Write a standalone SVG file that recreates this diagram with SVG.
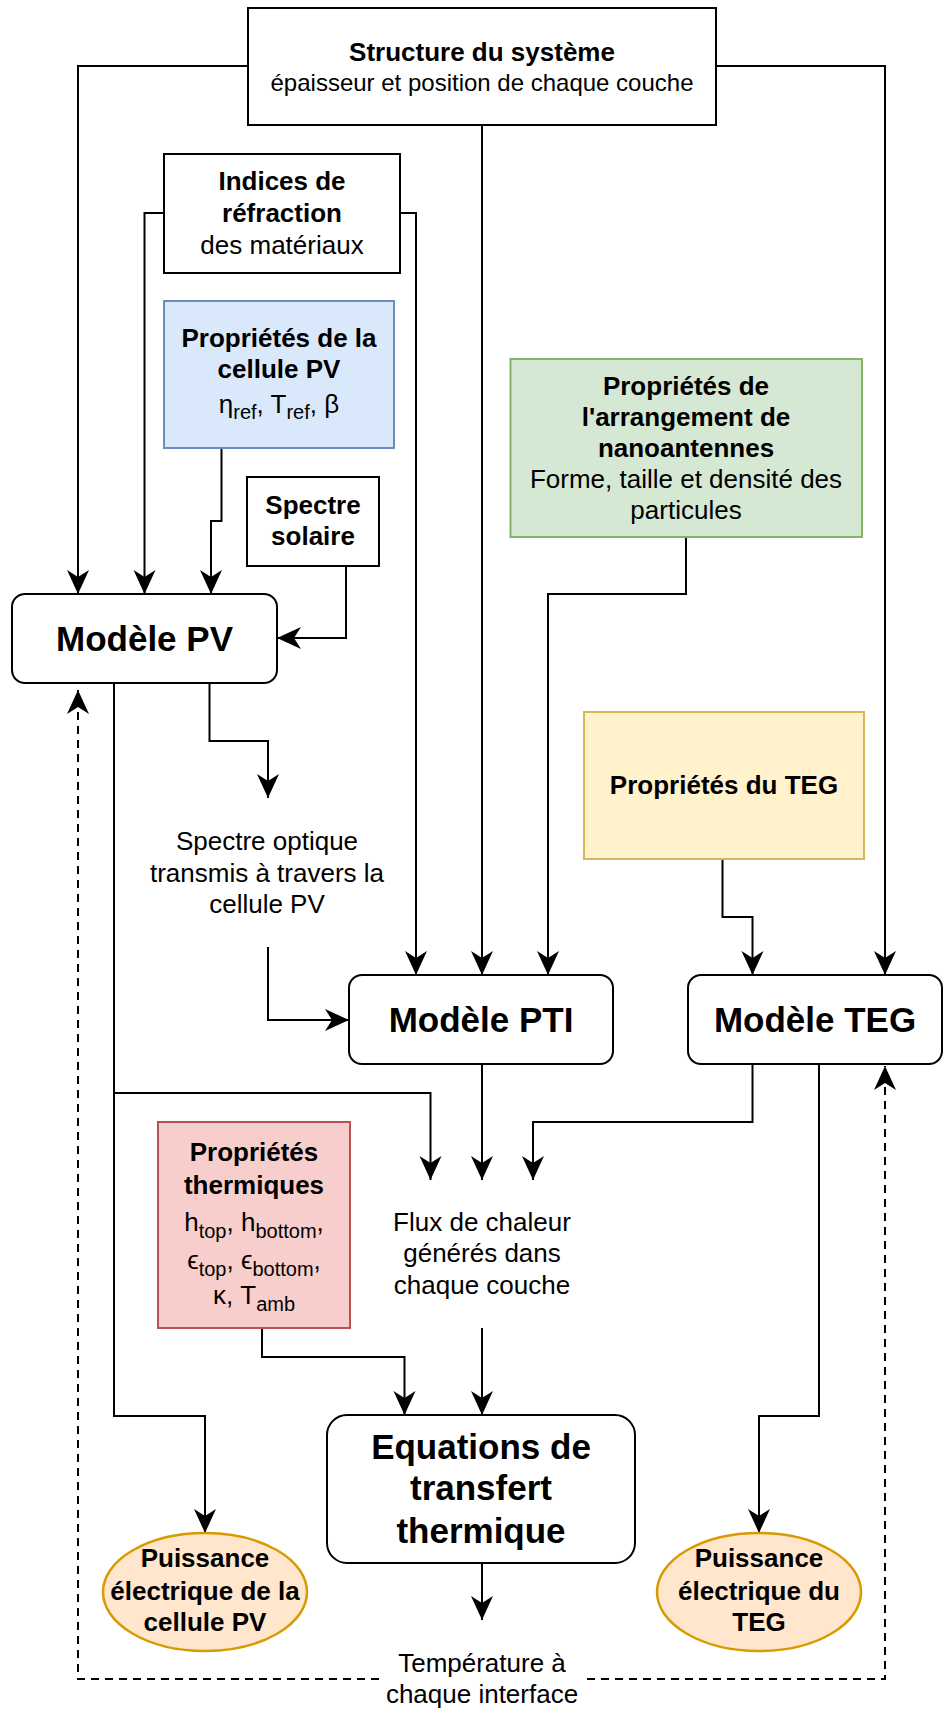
<svg xmlns="http://www.w3.org/2000/svg" width="944" height="1711" viewBox="0 0 944 1711">
<style>
.box{fill:#fff;stroke:#000;stroke-width:2}
.blue{fill:#dae8fc;stroke:#6c8ebf;stroke-width:2}
.green{fill:#d5e8d4;stroke:#82b366;stroke-width:2}
.yellow{fill:#fff2cc;stroke:#d6b656;stroke-width:2}
.red{fill:#f8cecc;stroke:#b85450;stroke-width:2}
.orange{fill:#ffe6cc;stroke:#d79b00;stroke-width:2.5}
.e{fill:none;stroke:#000;stroke-width:2;marker-end:url(#arr)}
.d{fill:none;stroke:#000;stroke-width:2;stroke-dasharray:8 6;marker-end:url(#arr)}
text{font-family:"Liberation Sans",Arial,Helvetica,sans-serif;text-anchor:middle;fill:#000}
.b{font-size:26px;font-weight:bold}
.r{font-size:26px}
.r24{font-size:24px}
.t{font-size:35px;font-weight:bold}
.s{font-size:20px}
</style>
<defs>
<marker id="arr" viewBox="-25 -12 26 24" refX="0" refY="0" markerWidth="26" markerHeight="24" markerUnits="userSpaceOnUse" orient="auto">
<path d="M0,0 L-24,-11 L-17,0 L-24,11 Z" fill="#000"/>
</marker>
</defs>

<g id="connectors">
<path class="e" d="M248,66 H78 V594"/>
<path class="e" d="M716,66 H885 V975"/>
<path class="e" d="M482,125 V975"/>
<path class="e" d="M164,213 H144.5 V594"/>
<path class="e" d="M400,213 H416 V975"/>
<path class="e" d="M221.5,448 V521 H211 V594"/>
<path class="e" d="M346,566 V638 H277"/>
<path class="e" d="M686,537 V594 H548 V975"/>
<path class="e" d="M209.5,683 V741 H268 V798"/>
<path class="e" d="M268,947 V1020 H349"/>
<path class="e" d="M722.5,859 V917 H752.5 V975"/>
<path class="e" d="M114,683 V1093 H430.5 V1180"/>
<path class="e" d="M482,1064 V1180"/>
<path class="e" d="M752.5,1064 V1122 H533 V1180"/>
<path class="e" d="M262,1328 V1357 H404.5 V1415"/>
<path class="e" d="M482,1328 V1415"/>
<path class="e" d="M114,683 V1416 H205 V1533"/>
<path class="e" d="M819,1064 V1416 H759 V1533"/>
<path class="e" d="M482,1563 V1620"/>
<path class="d" d="M379,1679 H78 V690"/>
<path class="d" d="M587,1679 H885 V1066"/>
</g>

<g id="structure">
<rect class="box" x="248" y="8" width="468" height="117"/>
<text class="b" x="482" y="61">Structure du système</text>
<text class="r24" x="482" y="91">épaisseur et position de chaque couche</text>
</g>

<g id="indices">
<rect class="box" x="164" y="154" width="236" height="119"/>
<text class="b" x="282" y="190">Indices de</text>
<text class="b" x="282" y="222">réfraction</text>
<text class="r" x="282" y="254">des matériaux</text>
</g>

<g id="prop-pv">
<rect class="blue" x="164" y="301" width="230" height="147"/>
<text class="b" x="279" y="347">Propriétés de la</text>
<text class="b" x="279" y="378">cellule PV</text>
<text class="r" x="279" y="413">η<tspan class="s" dy="6">ref</tspan><tspan dy="-6">, T</tspan><tspan class="s" dy="6">ref</tspan><tspan dy="-6">, β</tspan></text>
</g>

<g id="spectre-solaire">
<rect class="box" x="247" y="477" width="132" height="89"/>
<text class="b" x="313" y="514">Spectre</text>
<text class="b" x="313" y="545">solaire</text>
</g>

<g id="prop-nano">
<rect class="green" x="510.5" y="359" width="351.5" height="178"/>
<text class="b" x="686" y="394.5">Propriétés de</text>
<text class="b" x="686" y="425.7">l'arrangement de</text>
<text class="b" x="686" y="456.9">nanoantennes</text>
<text class="r" x="686" y="488.1">Forme, taille et densité des</text>
<text class="r" x="686" y="519.3">particules</text>
</g>

<g id="modele-pv">
<rect class="box" x="12" y="594" width="265" height="89" rx="13"/>
<text class="t" x="144.5" y="651">Modèle PV</text>
</g>

<g id="prop-teg">
<rect class="yellow" x="584" y="712" width="280" height="147"/>
<text class="b" x="724" y="794">Propriétés du TEG</text>
</g>

<g id="spectre-optique">
<text class="r" x="267" y="850">Spectre optique</text>
<text class="r" x="267" y="882">transmis à travers la</text>
<text class="r" x="267" y="913">cellule PV</text>
</g>

<g id="modele-pti">
<rect class="box" x="349" y="975" width="264" height="89" rx="13"/>
<text class="t" x="481" y="1032">Modèle PTI</text>
</g>

<g id="modele-teg">
<rect class="box" x="688" y="975" width="254" height="89" rx="13"/>
<text class="t" x="815" y="1032">Modèle TEG</text>
</g>

<g id="prop-thermiques">
<rect class="red" x="158" y="1122" width="192" height="206"/>
<text class="b" x="254" y="1161">Propriétés</text>
<text class="b" x="254" y="1194">thermiques</text>
<text class="r" x="254" y="1231">h<tspan class="s" dy="7">top</tspan><tspan dy="-7">, h</tspan><tspan class="s" dy="7">bottom</tspan><tspan dy="-7">,</tspan></text>
<text class="r" x="254" y="1269">ϵ<tspan class="s" dy="7">top</tspan><tspan dy="-7">, ϵ</tspan><tspan class="s" dy="7">bottom</tspan><tspan dy="-7">,</tspan></text>
<text class="r" x="254" y="1304">κ, T<tspan class="s" dy="7">amb</tspan></text>
</g>

<g id="flux">
<text class="r" x="482" y="1231">Flux de chaleur</text>
<text class="r" x="482" y="1262">générés dans</text>
<text class="r" x="482" y="1294">chaque couche</text>
</g>

<g id="equations">
<rect class="box" x="327" y="1415" width="308" height="148" rx="20"/>
<text class="t" x="481" y="1459">Equations de</text>
<text class="t" x="481" y="1500">transfert</text>
<text class="t" x="481" y="1543">thermique</text>
</g>

<g id="puissance-pv">
<ellipse class="orange" cx="205" cy="1592" rx="102" ry="59"/>
<text class="b" x="205" y="1567">Puissance</text>
<text class="b" x="205" y="1600">électrique de la</text>
<text class="b" x="205" y="1631">cellule PV</text>
</g>

<g id="puissance-teg">
<ellipse class="orange" cx="759" cy="1592" rx="102" ry="59"/>
<text class="b" x="759" y="1567">Puissance</text>
<text class="b" x="759" y="1600">électrique du</text>
<text class="b" x="759" y="1631">TEG</text>
</g>

<g id="temperature">
<text class="r" x="482" y="1672">Température à</text>
<text class="r" x="482" y="1703">chaque interface</text>
</g>
</svg>
